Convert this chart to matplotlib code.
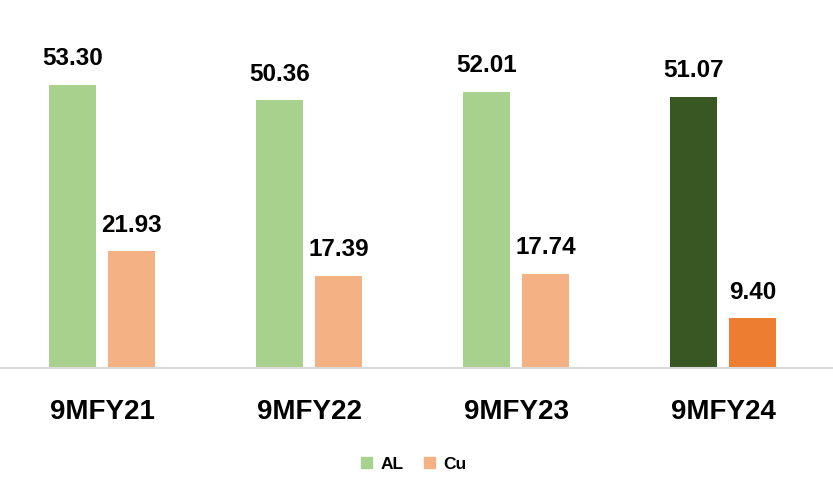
import matplotlib.pyplot as plt
import numpy as np
from matplotlib.patches import Patch

categories = ["9MFY21", "9MFY22", "9MFY23", "9MFY24"]
al_values = [53.30, 50.36, 52.01, 51.07]
cu_values = [21.93, 17.39, 17.74, 9.40]

AL_COLORS = ["#A9D18E", "#A9D18E", "#A9D18E", "#385723"]
CU_COLORS = ["#F4B183", "#F4B183", "#F4B183", "#ED7D31"]

plt.rcParams.update({'font.family': 'Liberation Sans', 'font.weight': 'bold'})

fig = plt.figure(figsize=(8.33, 4.83), dpi=100)
ax = fig.add_axes([0.0, 0.238, 1.0, 0.6605])

x = np.arange(len(categories))
w = 0.227
off = 0.1425

bars_al = ax.bar(x - off, al_values, w, color=AL_COLORS)
bars_cu = ax.bar(x + off, cu_values, w, color=CU_COLORS)

for bars, vals in ((bars_al, al_values), (bars_cu, cu_values)):
	for b, v in zip(bars, vals):
		ax.annotate("%.2f" % v, (b.get_x() + b.get_width() / 2, v),
					xytext=(0, 14), textcoords='offset points',
					ha='center', va='baseline', fontsize=17.5, fontweight='bold')

ax.set_xlim(-0.493, 3.531)
ax.set_ylim(0, 60)
ax.set_xticks(x)
ax.set_xticklabels(categories, fontsize=20, fontweight='bold')
ax.tick_params(axis='x', length=0, pad=22)
ax.set_yticks([])
for s in ('top', 'right', 'left'):
	ax.spines[s].set_visible(False)
ax.spines['bottom'].set_color('#D9D9D9')
ax.spines['bottom'].set_linewidth(1.5)

handles = [Patch(color="#A9D18E", label="AL"), Patch(color="#F4B183", label="Cu")]
fig.legend(handles=handles, loc='center', bbox_to_anchor=(0.497, 0.039), ncol=2,
		   frameon=False, handlelength=0.6, handleheight=0.6, handletextpad=0.5,
		   columnspacing=1.2, prop={'size': 12.5, 'weight': 'bold'})

plt.savefig("out.png", dpi=100)
